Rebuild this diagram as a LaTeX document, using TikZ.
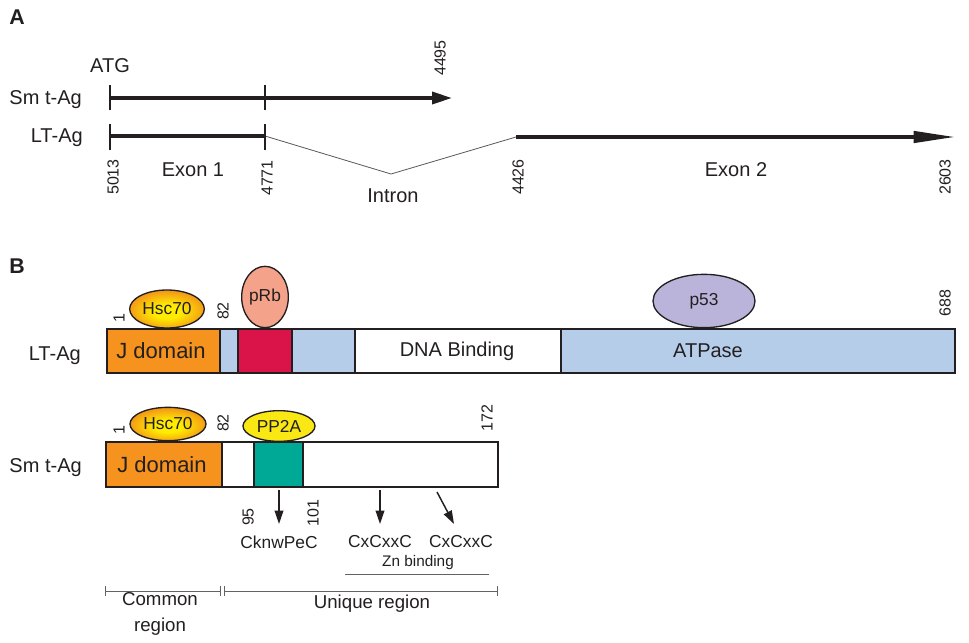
\documentclass[tikz,border=0pt]{standalone}
\usepackage{fontspec}
\setmainfont{Liberation Sans}
\usepackage{xcolor}
\usetikzlibrary{arrows.meta,shapes.geometric}

\definecolor{ink}{RGB}{35,31,32}
\definecolor{jorange}{RGB}{246,146,30}
\definecolor{ltblue}{RGB}{182,205,234}
\definecolor{crimson}{RGB}{218,20,72}
\definecolor{teal}{RGB}{0,168,150}
\definecolor{prbfill}{RGB}{245,162,138}
\definecolor{pfiftythree}{RGB}{186,180,219}
\definecolor{ppyellow}{RGB}{250,232,20}
\definecolor{hscin}{RGB}{255,236,0}
\definecolor{hscout}{RGB}{240,132,28}
\pgfdeclareradialshading{hscglow}{\pgfpoint{0bp}{-4bp}}{color(0bp)=(hscin); color(9bp)=(hscin); color(30bp)=(hscout); color(50bp)=(hscout)}

\begin{document}
\begin{tikzpicture}[x=0.75pt,y=0.75pt,yscale=-1,xscale=1,
    lbl/.style={font=\fontsize{15}{17}\selectfont,inner sep=0pt,text=ink},
    small/.style={font=\fontsize{13}{15}\selectfont,inner sep=0pt,text=ink},
    num/.style={font=\fontsize{12}{14}\selectfont,rotate=90,inner sep=0pt,text=ink},
    panel/.style={font=\fontsize{16}{18}\selectfont\bfseries,inner sep=0pt,text=ink},
    bind/.style={ellipse,draw=ink,line width=1pt,inner sep=0pt,text=ink,font=\fontsize{13}{15}\selectfont},
    hsc/.style={bind,shading=hscglow},
    seg/.style={draw=ink,line width=1pt},
    gene/.style={draw=ink,line width=2.5pt},
    tick/.style={draw=ink,line width=1.5pt},
    site/.style={draw=ink,line width=1.1pt,-{Triangle[length=10pt,width=6.5pt]}},
    brk/.style={draw=ink!70,line width=0.7pt,{Bar[width=7pt]}-{Bar[width=7pt]}},
]
    \useasboundingbox (0,0) rectangle (969,642);

    %Text: panel A
    \node[panel] (labA) at (17,17) {A};
    \node[lbl] (atg) at (110,66) {ATG};
    \node[lbl,anchor=base east] (smlabA) at (82,104) {Sm t-Ag};
    \node[lbl,anchor=base east] (ltlabA) at (83,142) {LT-Ag};
    \node[num] (n4495) at (440,58) {4495};
    \node[num] (n5013) at (113,177) {5013};
    \node[num] (n4771) at (267,178) {4771};
    \node[num] (n4426) at (518,177) {4426};
    \node[num] (n2603) at (945,177) {2603};
    \node[lbl] (ex1) at (193,170) {Exon 1};
    \node[lbl] (intron) at (393,196) {Intron};
    \node[lbl] (ex2) at (736,170) {Exon 2};

    %Straight Lines: transcripts
    \coordinate (smS) at (110,98);
    \coordinate (smE) at (452,98);
    \coordinate (ex1S) at (110,136);
    \coordinate (ex1E) at (265,136);
    \coordinate (intr) at (391,174);
    \coordinate (ex2S) at (516,137);
    \coordinate (ex2E) at (955,137);
    \draw[gene,-{Triangle[length=15pt,width=9pt]}] (smS) -- (smE);
    \draw[gene] (ex1S) -- (ex1E);
    \draw[ink!75,line width=0.6pt] (ex1E) -- (intr) -- (ex2S);
    \draw[gene,-{Triangle[length=31pt,width=8.5pt]}] (ex2S) -- (ex2E);
    \draw[tick] (110,85) -- (110,110);
    \draw[tick] (265,85) -- (265,110);
    \draw[tick] (110,124) -- (110,150);
    \draw[tick] (265,124) -- (265,150);

    %Text: panel B
    \node[panel] (labB) at (17,266) {B};
    \node[lbl,anchor=base east] (ltlabB) at (81,360) {LT-Ag};
    \node[lbl,anchor=base east] (smlabB) at (82,472) {Sm t-Ag};

    %Shape: LT-Ag bar
    \filldraw[seg,fill=jorange] (107,329) rectangle (220,373);
    \filldraw[seg,fill=ltblue] (220,329) rectangle (238,373);
    \filldraw[seg,fill=crimson] (238,329) rectangle (292,373);
    \filldraw[seg,fill=ltblue] (292,329) rectangle (355,373);
    \filldraw[seg,fill=white] (355,329) rectangle (561,373);
    \filldraw[seg,fill=ltblue] (561,329) rectangle (955,373);
    \node[lbl,font=\fontsize{16.5}{18}\selectfont] (jdomLT) at (161,351) {J domain};
    \node[lbl] (dnab) at (457,351) {DNA Binding};
    \node[lbl] (atpase) at (708,351) {ATPase};
    \node[num] (oneLT) at (119,318) {1};
    \node[num] (e82LT) at (223,311) {82};
    \node[num] (n688) at (945,303) {688};

    %Shape: Ellipse binders LT
    \node[hsc,minimum width=56pt,minimum height=28.5pt] (hscLT) at (167,309) {Hsc70};
    \node[bind,fill=prbfill,minimum width=35pt,minimum height=46pt] (prb) at (265,297) {pRb};
    \node[bind,fill=pfiftythree,minimum width=76.5pt,minimum height=40pt] (p53) at (704,301) {p53};

    %Shape: Sm t-Ag bar
    \filldraw[seg,fill=jorange] (106,442) rectangle (222,487);
    \filldraw[seg,fill=white] (222,442) rectangle (254,487);
    \filldraw[seg,fill=teal] (254,442) rectangle (303,487);
    \filldraw[seg,fill=white] (303,442) rectangle (498,487);
    \node[lbl,font=\fontsize{16.5}{18}\selectfont] (jdomSm) at (162,465) {J domain};
    \node[num] (oneSm) at (119,430) {1};
    \node[num] (e82Sm) at (223,423) {82};
    \node[num] (n172) at (487,418) {172};
    \node[hsc,minimum width=57pt,minimum height=25pt] (hscSm) at (168,424) {Hsc70};
    \node[bind,fill=ppyellow,minimum width=54pt,minimum height=23pt] (pp2a) at (279,426) {PP2A};

    %Straight Lines: motifs
    \node[num] (n95) at (248,517) {95};
    \node[num] (n101) at (313,513) {101};
    \node[small] (cknw) at (279,542) {CknwPeC};
    \node[small] (zn1) at (380,542) {CxCxxC};
    \node[small] (zn2) at (461,542) {CxCxxC};
    \node[small,font=\fontsize{11.5}{13}\selectfont] (znb) at (418,563) {Zn binding};
    \coordinate (a1s) at (279,490);
    \coordinate (a1e) at (279,524);
    \coordinate (a2s) at (380,490);
    \coordinate (a2e) at (380,524);
    \coordinate (a3s) at (437,492);
    \coordinate (a3e) at (454,524);
    \draw[site] (a1s) -- (a1e);
    \draw[site] (a2s) -- (a2e);
    \draw[site] (a3s) -- (a3e);
    \coordinate (znL) at (345,574);
    \coordinate (znR) at (489,574);
    \draw[ink!70,line width=0.7pt] (znL) -- (znR);

    %Straight Lines: regions
    \coordinate (comL) at (105,591);
    \coordinate (comR) at (221,591);
    \coordinate (uniL) at (224,591);
    \coordinate (uniR) at (498,591);
    \draw[brk] (comL) -- (comR);
    \draw[brk] (uniL) -- (uniR);
    \node[lbl,font=\fontsize{14}{20}\selectfont,align=center] (common) at (160,614) {Common\\region};
    \node[lbl,font=\fontsize{14}{16}\selectfont] (unique) at (372,604) {Unique region};

\end{tikzpicture}
\end{document}
